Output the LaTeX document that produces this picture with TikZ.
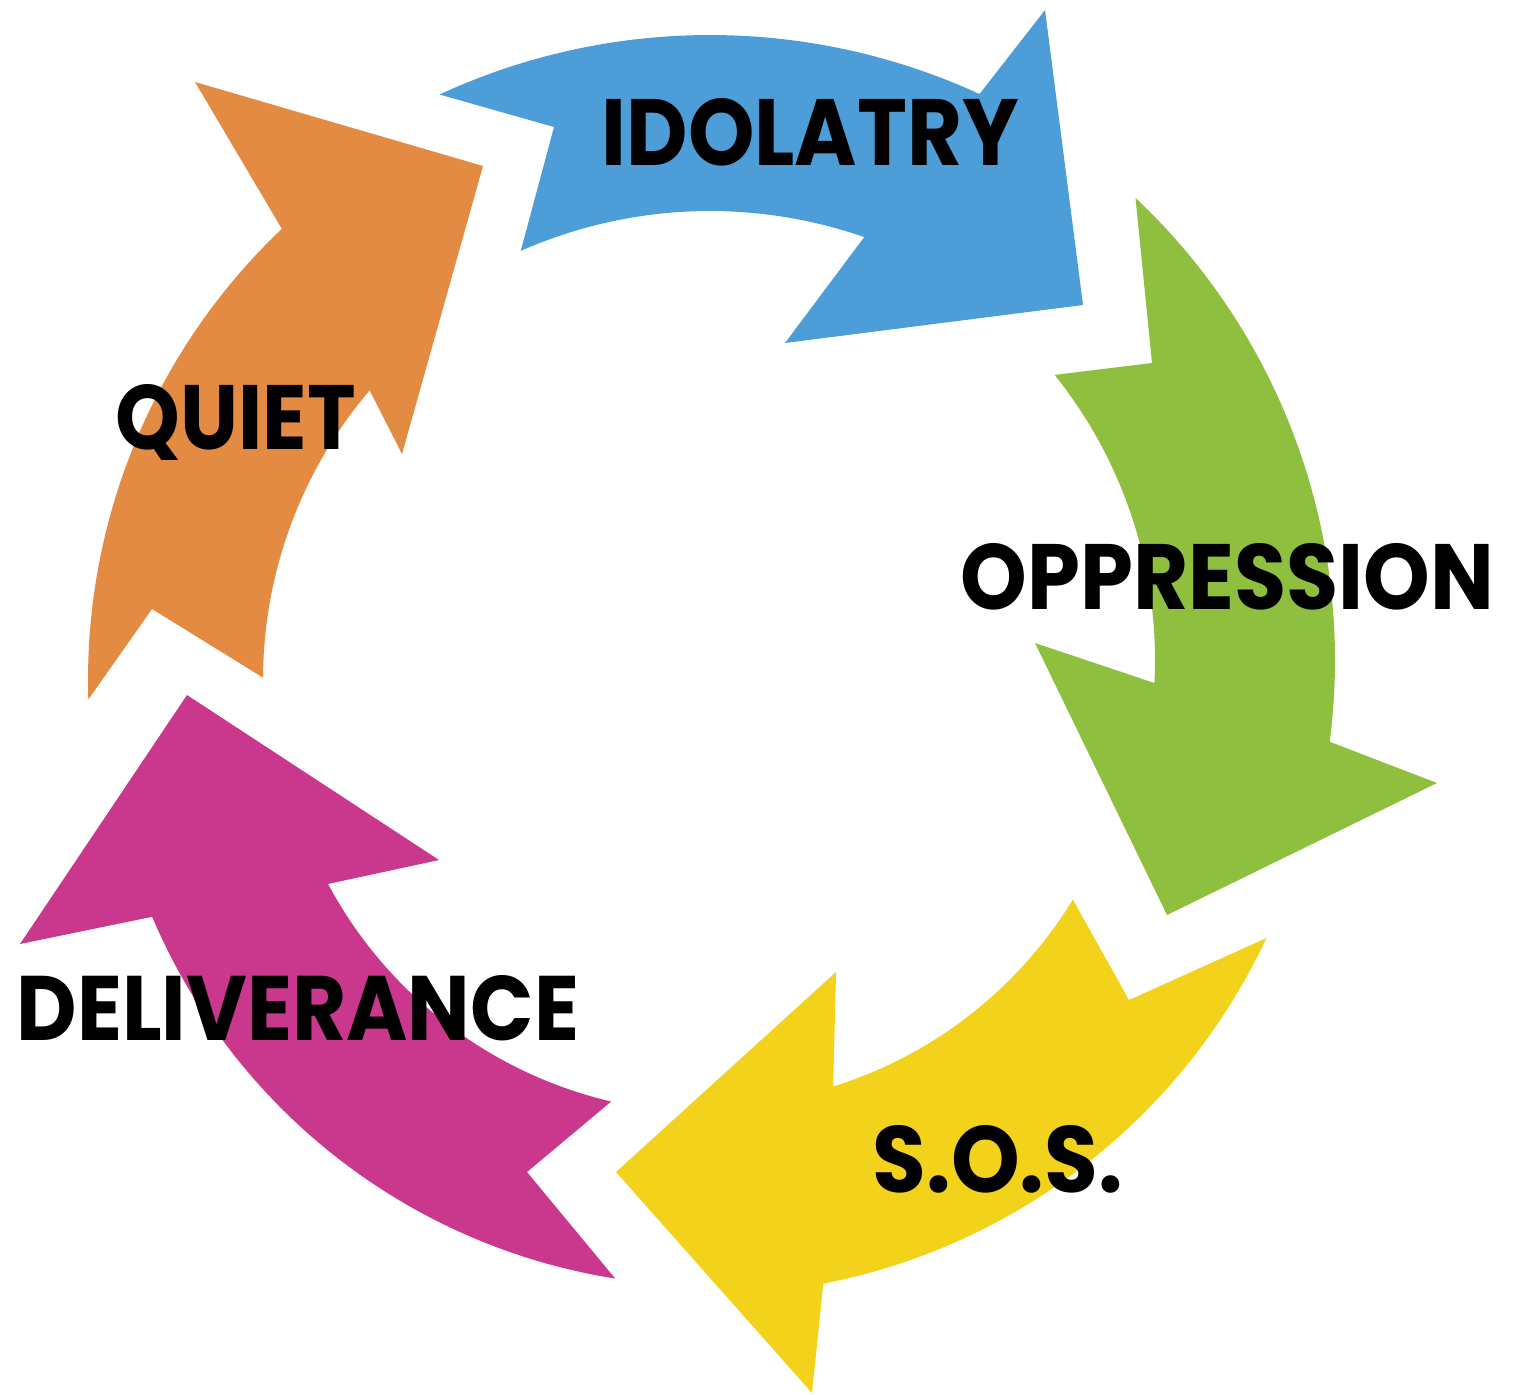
\documentclass[tikz,border=0pt]{standalone}
\usepackage{fontspec}
\usepackage{graphicx}
\newfontfamily\spartan{Poppins}
\definecolor{idolblue}{HTML}{4D9ED8}
\definecolor{oppgreen}{HTML}{8FBF3F}
\definecolor{sosyellow}{HTML}{F2D21B}
\definecolor{delivpink}{HTML}{C9388C}
\definecolor{quietorange}{HTML}{E48B43}
\newcommand{\stagetext}[3]{\resizebox{#1}{#2}{#3}}
\tikzset{
    stagearrow/.style = {draw=none},
    stagelabel/.style = {
        inner sep = 0pt,
        anchor = base west,
        text = black,
        font = \spartan\bfseries
    }
}

\begin{document}
\begin{tikzpicture}[x=0.01cm, y=-0.01cm]

    \useasboundingbox (0,0) rectangle (1519,1394);

    % Centres of the arcs
    \coordinate (hub) at (710,680);
    \coordinate (greenhub) at (700,660);
    \coordinate (yellowhub) at (705,675);

    % Idolatry arrow
    \fill[stagearrow, idolblue] ([shift={(-114.8:645)}]hub) -- (554,127)
        -- ([shift={(-113.8:469)}]hub) arc[start angle=-113.8, end angle=-70.8, radius=469]
        -- (785,343) -- (1083,305) -- (1045,10)
        -- ([shift={(-65.3:645)}]hub) arc[start angle=-65.3, end angle=-114.8, radius=645]
        -- cycle;

    % Oppression arrow
    \fill[stagearrow, oppgreen] ([shift={(-46.7:635)}]greenhub) -- (1152,363)
        -- ([shift={(-38.8:455)}]greenhub) arc[start angle=-38.8, end angle=2.9, radius=455]
        -- (1035,643) -- (1167,915) -- (1437,783)
        -- ([shift={(7.4:635)}]greenhub) arc[start angle=7.4, end angle=-46.7, radius=635]
        -- cycle;

    % S.O.S. arrow
    \fill[stagearrow, sosyellow] ([shift={(25.1:620)}]yellowhub) -- (1129,1000)
        -- ([shift={(31.4:431)}]yellowhub) arc[start angle=31.4, end angle=72.7, radius=431]
        -- (836,972) -- (616,1172) -- (812,1393)
        -- ([shift={(79:620)}]yellowhub) arc[start angle=79, end angle=25.1, radius=620]
        -- cycle;

    % Deliverance arrow
    \fill[stagearrow, delivpink] ([shift={(99:606)}]hub) -- (527,1172)
        -- ([shift={(103.2:433)}]hub) arc[start angle=103.2, end angle=151.9, radius=433]
        -- (439,860) -- (187,695) -- (20,944)
        -- ([shift={(157:606)}]hub) arc[start angle=157, end angle=99, radius=606]
        -- cycle;

    % Quiet arrow
    \fill[stagearrow, quietorange] ([shift={(178.2:622)}]hub) -- (152,609)
        -- ([shift={(180.3:447)}]hub) arc[start angle=180.3, end angle=220.4, radius=447]
        -- (402,454) -- (483,166) -- (195,82)
        -- ([shift={(226.5:622)}]hub) arc[start angle=226.5, end angle=178.2, radius=622]
        -- cycle;

    % Labels
    \node[stagelabel] (idolatry) at (601,166) {\stagetext{4.17cm}{0.67cm}{IDOLATRY}};
    \node[stagelabel] (oppression) at (960,609) {\stagetext{5.33cm}{0.66cm}{OPPRESSION}};
    \node[stagelabel] (sos) at (872,1192) {\stagetext{2.50cm}{0.67cm}{S.O.S.}};
    \node[stagelabel] (deliverance) at (16,1040) {\stagetext{5.62cm}{0.65cm}{DELIVERANCE}};
    \node[stagelabel] (quiet) at (115,449) {\stagetext{2.40cm}{0.65cm}{QUIET}};

\end{tikzpicture}
\end{document}
